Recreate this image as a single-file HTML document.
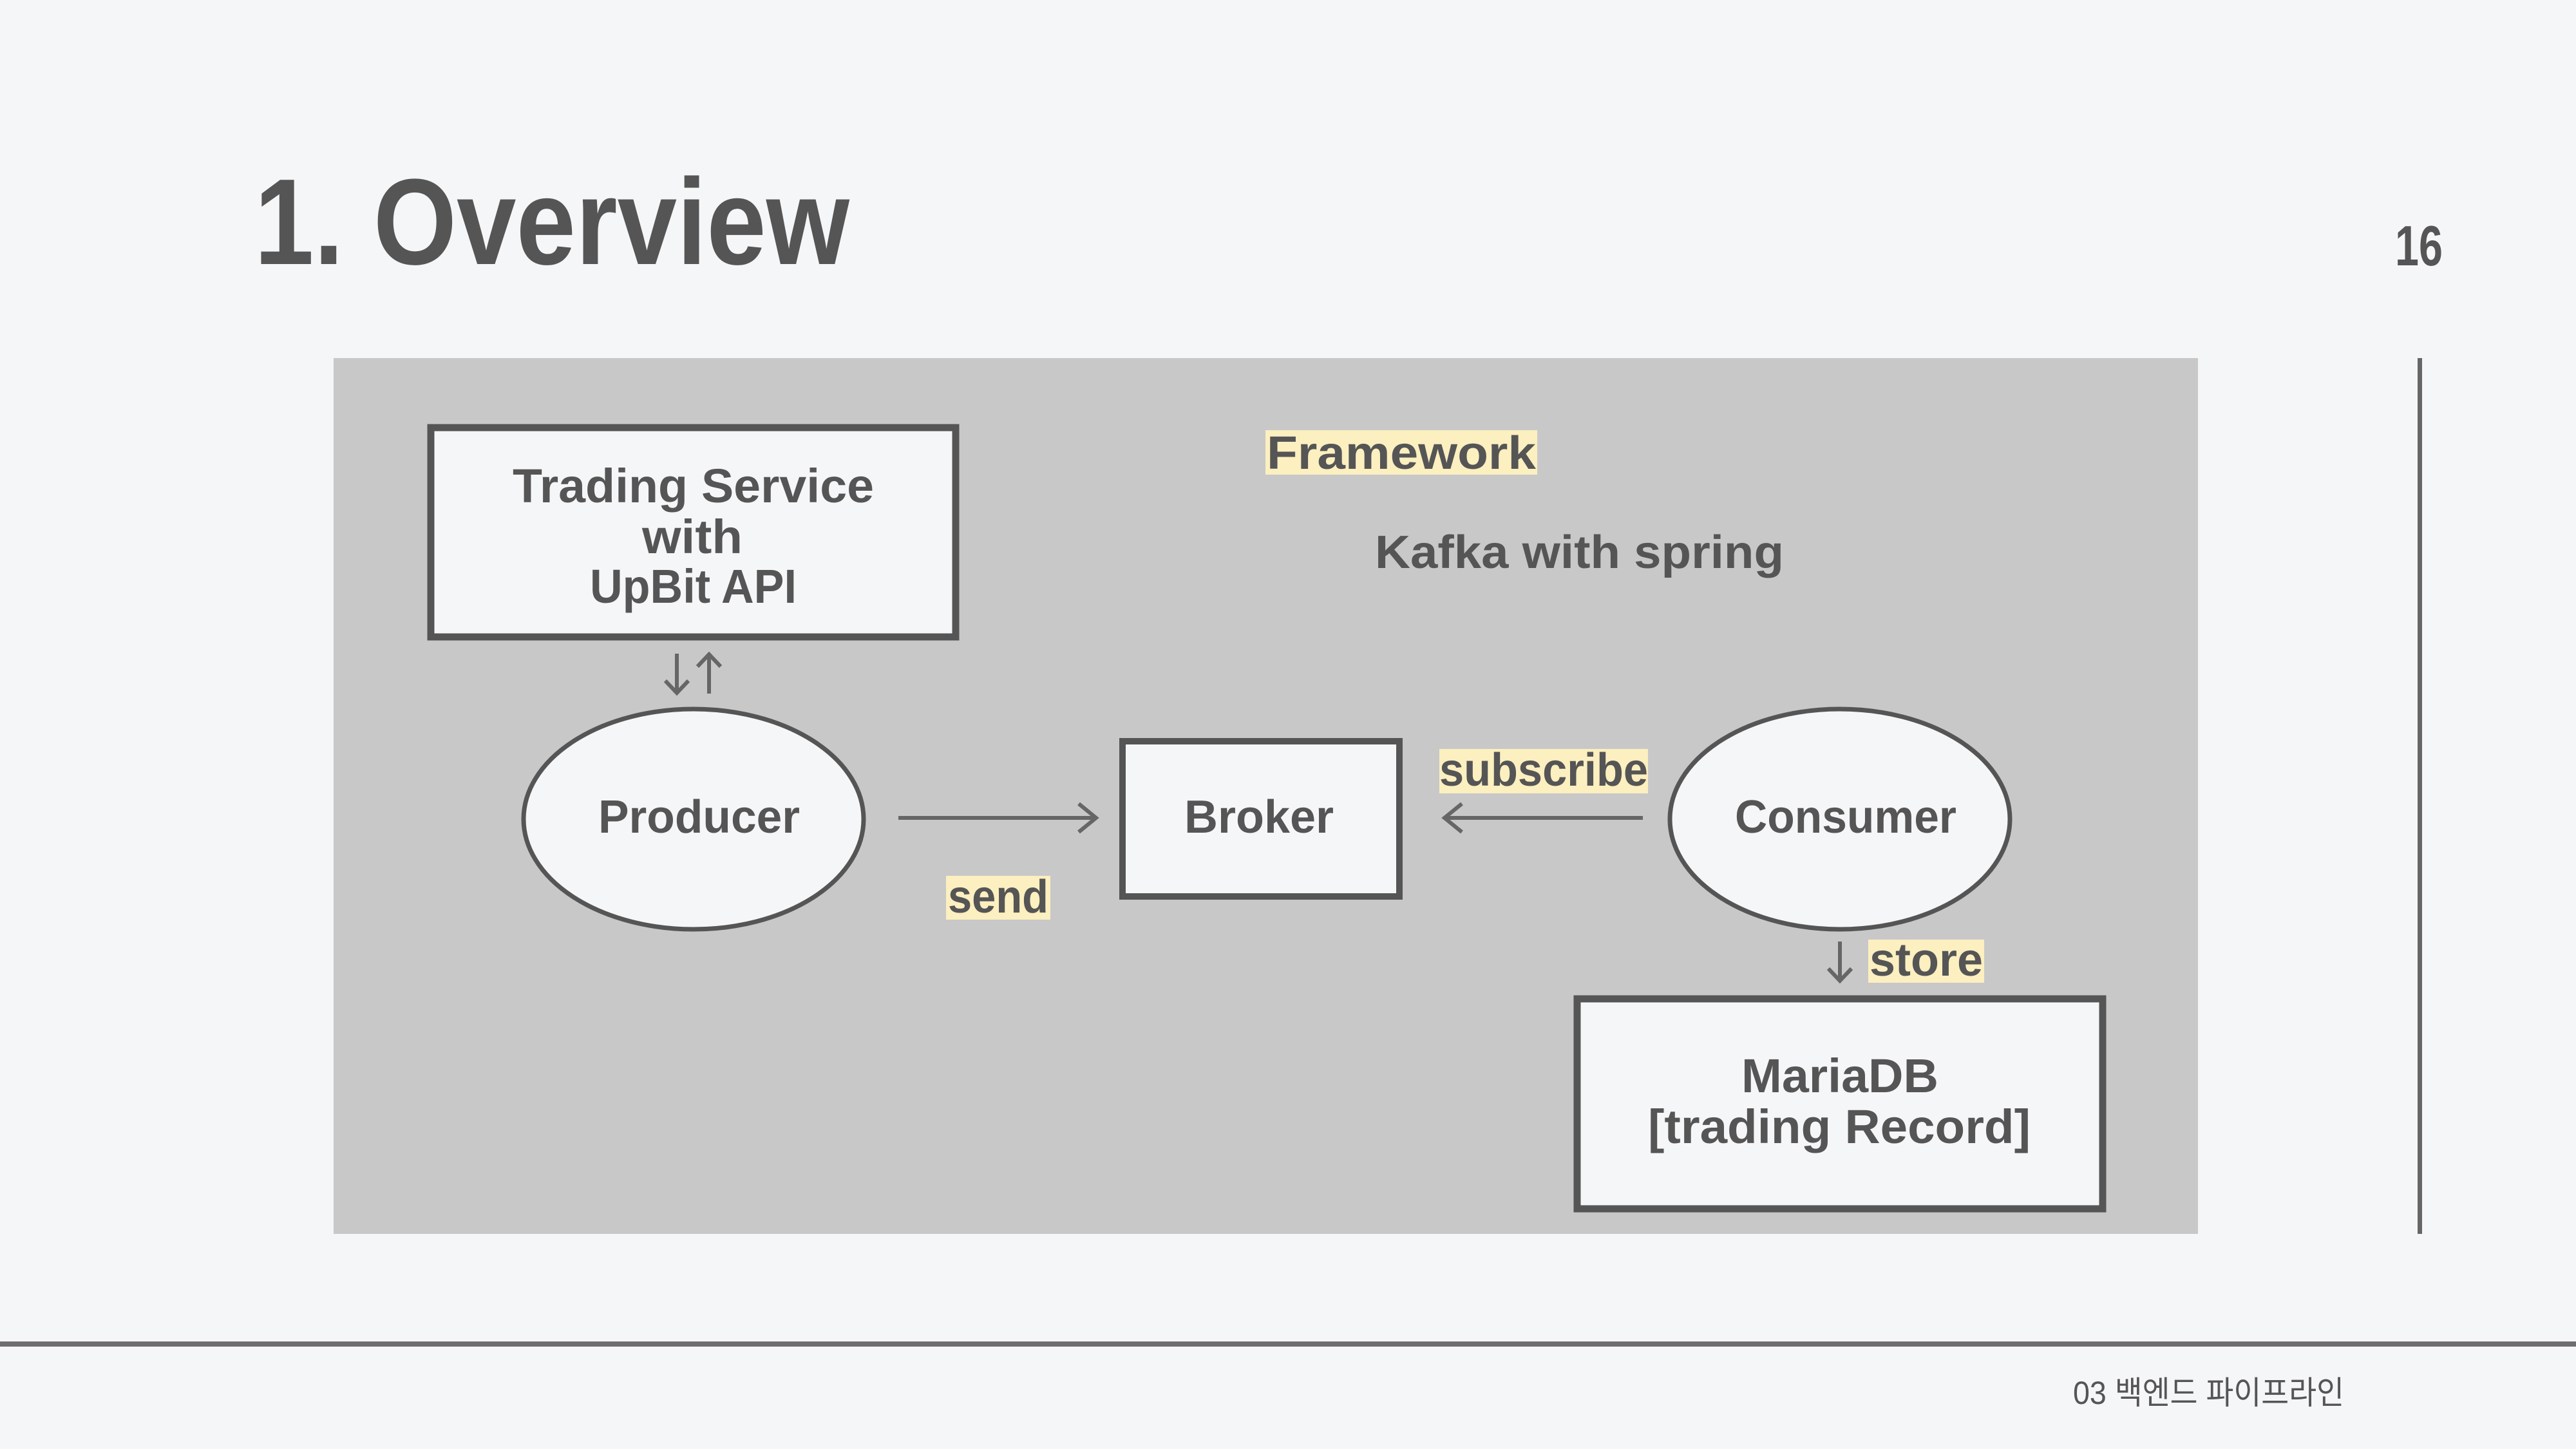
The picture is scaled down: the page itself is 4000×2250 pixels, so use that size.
<!DOCTYPE html>
<html><head><meta charset="utf-8"><style>
html,body{margin:0;padding:0;background:#f5f6f8;}
svg{display:block;}
text{font-family:"Liberation Sans","Noto Sans CJK KR",sans-serif;fill:#555;font-weight:bold;}
</style></head><body>
<svg width="4000" height="2250" viewBox="0 0 4000 2250" xmlns="http://www.w3.org/2000/svg">
<rect width="4000" height="2250" fill="#f5f6f8"/>
<text x="395" y="410" font-size="190" textLength="924" lengthAdjust="spacingAndGlyphs">1. Overview</text>
<text x="3719" y="412" font-size="88" textLength="74" lengthAdjust="spacingAndGlyphs" fill="#666">16</text>
<rect x="518" y="556" width="2895" height="1360" fill="#c8c8c8"/>
<rect x="3754" y="556" width="7" height="1360" fill="#666"/>
<rect x="0" y="2083" width="4000" height="8" fill="#6e6e6e"/>
<text x="3219" y="2180" font-size="50" style="font-weight:normal" fill="#666" textLength="421" lengthAdjust="spacingAndGlyphs">03 백엔드 파이프라인</text>

<rect x="669" y="664" width="815" height="325" fill="#f5f6f8" stroke="#555" stroke-width="11"/>
<text x="796" y="780" font-size="74" textLength="561" lengthAdjust="spacingAndGlyphs">Trading Service</text>
<text x="997" y="859" font-size="74" textLength="156" lengthAdjust="spacingAndGlyphs">with</text>
<text x="916" y="936" font-size="74" textLength="321" lengthAdjust="spacingAndGlyphs">UpBit API</text>

<g stroke="#666" stroke-width="6" fill="none">
<line x1="1051" y1="1015" x2="1051" y2="1075"/>
<polyline points="1033,1057 1051,1076 1069,1057"/>
<line x1="1101" y1="1017" x2="1101" y2="1077"/>
<polyline points="1083,1035 1101,1016 1119,1035"/>
<line x1="2857" y1="1462" x2="2857" y2="1522"/>
<polyline points="2839,1504 2857,1523 2875,1504"/>
</g>

<ellipse cx="1077" cy="1272" rx="264" ry="171" fill="#f5f6f8" stroke="#555" stroke-width="7"/>
<text x="929" y="1293" font-size="72" textLength="313" lengthAdjust="spacingAndGlyphs">Producer</text>

<line x1="1395" y1="1270" x2="1700" y2="1270" stroke="#666" stroke-width="6"/>
<polyline points="1675,1248 1702,1270 1675,1292" fill="none" stroke="#666" stroke-width="6"/>
<rect x="1469" y="1360" width="162" height="68" fill="#fcefc0"/>
<text x="1472" y="1417" font-size="72" textLength="156" lengthAdjust="spacingAndGlyphs">send</text>

<rect x="1743" y="1151" width="430" height="241" fill="#f5f6f8" stroke="#555" stroke-width="10"/>
<text x="1839" y="1293" font-size="72" textLength="232" lengthAdjust="spacingAndGlyphs">Broker</text>

<rect x="2235" y="1163" width="324" height="69" fill="#fcefc0"/>
<text x="2235" y="1220" font-size="72" textLength="324" lengthAdjust="spacingAndGlyphs">subscribe</text>
<line x1="2245" y1="1270" x2="2551" y2="1270" stroke="#666" stroke-width="6"/>
<polyline points="2270,1248 2243,1270 2270,1292" fill="none" stroke="#666" stroke-width="6"/>

<ellipse cx="2857" cy="1272" rx="264" ry="171" fill="#f5f6f8" stroke="#555" stroke-width="7"/>
<text x="2694" y="1293" font-size="72" textLength="344" lengthAdjust="spacingAndGlyphs">Consumer</text>

<rect x="2901" y="1459" width="180" height="67" fill="#fcefc0"/>
<text x="2903" y="1515" font-size="72" textLength="176" lengthAdjust="spacingAndGlyphs">store</text>

<rect x="2449" y="1551" width="816" height="326" fill="#f5f6f8" stroke="#555" stroke-width="11"/>
<text x="2704" y="1696" font-size="74" textLength="306" lengthAdjust="spacingAndGlyphs">MariaDB</text>
<text x="2559" y="1775" font-size="74" textLength="594" lengthAdjust="spacingAndGlyphs">[trading Record]</text>

<rect x="1965" y="668" width="422" height="69" fill="#fcefc0"/>
<text x="1967" y="728" font-size="72" textLength="418" lengthAdjust="spacingAndGlyphs">Framework</text>
<text x="2135" y="882" font-size="72" textLength="635" lengthAdjust="spacingAndGlyphs">Kafka with spring</text>
</svg>
</body></html>
